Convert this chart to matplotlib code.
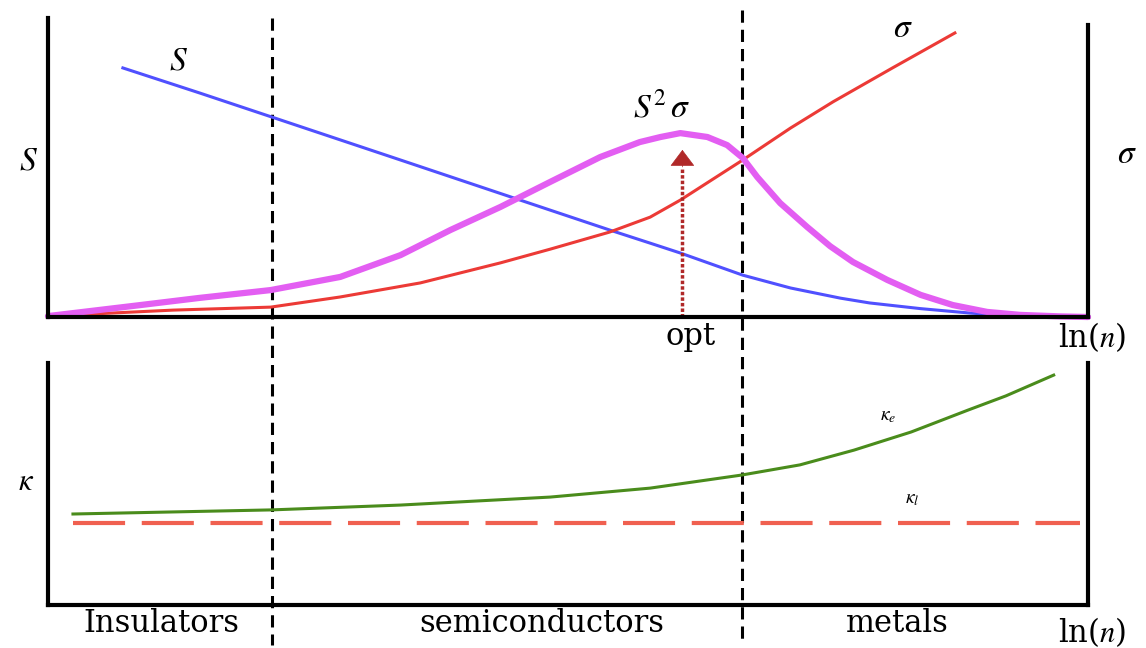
import matplotlib
matplotlib.use("Agg")
from matplotlib import pyplot as plt

plt.rcParams["font.family"] = "DejaVu Serif"
plt.rcParams["mathtext.fontset"] = "stix"

# x axis is ln(n) in arbitrary units (0..10), y values are arbitrary (0..1)
s_x = [0.72, 1.46, 2.15, 3.39, 4.54, 5.40, 5.79, 6.08, 6.68, 7.14, 7.62, 7.90, 8.39, 8.87, 9.15, 9.64, 10.0]
s_y = [0.833, 0.749, 0.669, 0.525, 0.391, 0.291, 0.247, 0.214, 0.140, 0.097, 0.063, 0.047, 0.028, 0.013, 0.007, 0.002, 0.0]

sigma_x = [0.0, 1.20, 2.14, 2.81, 3.58, 4.35, 4.83, 5.40, 5.79, 6.08, 6.68, 7.14, 7.55, 8.12, 8.72]
sigma_y = [0.003, 0.023, 0.033, 0.067, 0.114, 0.181, 0.227, 0.284, 0.334, 0.391, 0.525, 0.632, 0.720, 0.833, 0.950]

pf_x = [0.0, 0.89, 1.46, 2.14, 2.81, 3.39, 3.87, 4.35, 4.83, 5.31, 5.69, 5.89, 6.08, 6.34, 6.53,
        6.68, 6.82, 7.04, 7.30, 7.52, 7.74, 8.07, 8.39, 8.70, 9.03, 9.35, 9.73, 10.0]
pf_y = [0.003, 0.040, 0.064, 0.090, 0.134, 0.207, 0.291, 0.368, 0.452, 0.535, 0.585, 0.602, 0.615, 0.602, 0.575,
        0.532, 0.468, 0.381, 0.301, 0.237, 0.184, 0.124, 0.074, 0.040, 0.017, 0.007, 0.002, 0.0]

ke_x = [0.24, 2.15, 3.39, 4.83, 5.79, 6.67, 7.23, 7.75, 8.30, 8.85, 9.21, 9.67]
ke_y = [0.376, 0.393, 0.413, 0.446, 0.483, 0.537, 0.579, 0.640, 0.715, 0.806, 0.864, 0.950]

kl_x = [0.24, 9.92]
kl_y = [0.339, 0.339]

boundaries = [2.15, 6.67]   # insulator/semiconductor, semiconductor/metal
opt_x = 6.10
arrow_top = 0.559
arrow_base = 0.502

W, H = 1146, 648
fig = plt.figure(figsize=(W / 100, H / 100), dpi=100)


def fx(x):
    return x / W


def fy(y):
    return 1 - y / H


# overlay axes (pixel rows in y) for the region boundaries spanning both panels
ax0 = fig.add_axes([fx(48), 0, fx(1088) - fx(48), 1])
ax0.set_xlim(0, 10)
ax0.set_ylim(H, 0)
ax0.axis("off")
ax0.vlines(boundaries, [18, 10], 645, colors="black", linewidth=2.2,
           linestyles=(0, (4, 2.3)))

# top panel: S, sigma, S^2 sigma
ax1 = fig.add_axes([fx(48), fy(317), fx(1088) - fx(48), fy(18) - fy(317)])
ax1.patch.set_alpha(0)
ax1.set_xlim(0, 10)
ax1.set_ylim(0, 1)
ax1.plot(s_x, s_y, color="#5050ff", linewidth=2.2, clip_on=False,
         solid_joinstyle="round")
ax1.plot(sigma_x, sigma_y, color="#ec3a36", linewidth=2.2, clip_on=False,
         solid_joinstyle="round")
ax1.plot(pf_x, pf_y, color="#e35ef2", linewidth=4.5, clip_on=False,
         solid_capstyle="round", solid_joinstyle="round")
ax1.plot([opt_x, opt_x], [0, arrow_base], color="#b02828", linewidth=2.5,
         linestyle=(0, (1, 0.6)))
ax1.annotate("", xy=(opt_x, arrow_top), xytext=(opt_x, arrow_base),
             arrowprops=dict(arrowstyle="-|>,head_length=0.6,head_width=0.45",
                             color="#b02828", lw=0.5,
                             mutation_scale=18, shrinkA=0, shrinkB=0))
ax1.spines["top"].set_visible(False)
ax1.spines["right"].set_bounds(0, 0.977)
for side in ["left", "bottom", "right"]:
    ax1.spines[side].set_linewidth(3)
    ax1.spines[side].set_color("black")
ax1.set_xticks([])
ax1.set_yticks([])

# bottom panel: thermal conductivities
ax2 = fig.add_axes([fx(48), fy(605), fx(1088) - fx(48), fy(363) - fy(605)])
ax2.patch.set_alpha(0)
ax2.set_xlim(0, 10)
ax2.set_ylim(0, 1)
ax2.plot(ke_x, ke_y, color="#4a8c1c", linewidth=2.2, solid_joinstyle="round")
ax2.plot(kl_x, kl_y, color="#f06050", linewidth=3, linestyle=(0, (12.5, 4)))
ax2.spines["top"].set_visible(False)
for side in ["left", "bottom", "right"]:
    ax2.spines[side].set_linewidth(3)
    ax2.spines[side].set_color("black")
ax2.set_xticks([])
ax2.set_yticks([])

# labels
big = 24
fig.text(fx(178), fy(60), r"$S$", fontsize=big, ha="center", va="center")
fig.text(fx(28), fy(161), r"$S$", fontsize=big, ha="center", va="center")
fig.text(fx(903), fy(28), r"$\sigma$", fontsize=big, ha="center", va="center")
fig.text(fx(1127), fy(154), r"$\sigma$", fontsize=big, ha="center", va="center")
fig.text(fx(662), fy(108), r"$S^2\,\sigma$", fontsize=big, ha="center", va="center")
fig.text(fx(691), fy(336), "opt", fontsize=22, ha="center", va="center")
fig.text(fx(1092), fy(337), r"ln($n$)", fontsize=22, ha="center", va="center")
fig.text(fx(1092), fy(632), r"ln($n$)", fontsize=22, ha="center", va="center")

fig.text(fx(26), fy(481), r"$\kappa$", fontsize=22, ha="center", va="center")
fig.text(fx(888), fy(416), r"$\kappa_e$", fontsize=14, ha="center", va="center")
fig.text(fx(912), fy(499), r"$\kappa_l$", fontsize=14, ha="center", va="center")

fig.text(fx(161), fy(624), "Insulators", fontsize=22, ha="center", va="center")
fig.text(fx(542), fy(624), "semiconductors", fontsize=22, ha="center", va="center")
fig.text(fx(897), fy(624), "metals", fontsize=22, ha="center", va="center")

fig.savefig("out.png", dpi=100)
